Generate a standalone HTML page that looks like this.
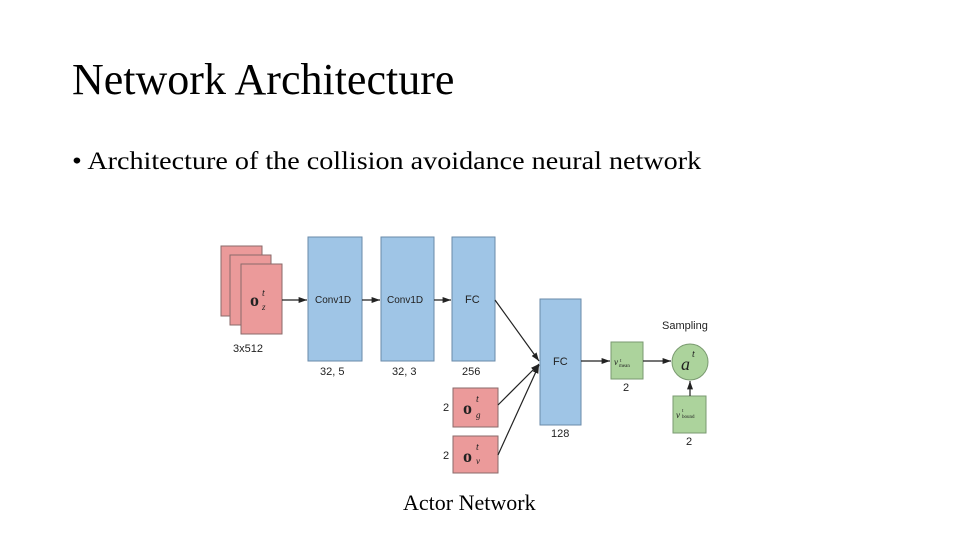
<!DOCTYPE html>
<html><head><meta charset="utf-8"><style>
body{margin:0;width:960px;height:540px;background:#fff;overflow:hidden;position:relative;font-family:"Liberation Serif",serif}
.t{position:absolute;white-space:nowrap}
</style></head><body>
<div class="t" style="left:72px;top:54px;font-size:44px">Network Architecture</div>
<div class="t" style="left:72px;top:148px;font-size:25px;word-spacing:0px;transform:scaleX(1.125);transform-origin:0 0">• Architecture of the collision avoidance neural network</div>
<div class="t" style="left:403px;top:490px;font-size:22px">Actor Network</div>
<svg style="position:absolute;left:0;top:0" width="960" height="540" font-family="Liberation Sans, sans-serif">
<defs><marker id="a" markerWidth="8" markerHeight="8" refX="7" refY="4" orient="auto"><path d="M0,1.5 L7,4 L0,6.5z" fill="#222"/></marker></defs>
<g fill="#eb9a9a" stroke="#8a6a6a" stroke-width="1">
<rect x="221" y="246" width="41" height="70"/>
<rect x="230" y="255" width="41" height="70"/>
<rect x="241" y="264" width="41" height="70"/>
<rect x="453" y="388" width="45" height="39"/>
<rect x="453" y="436" width="45" height="37"/>
</g>
<g fill="#9fc5e6" stroke="#6a8aa8" stroke-width="1">
<rect x="308" y="237" width="54" height="124"/>
<rect x="381" y="237" width="53" height="124"/>
<rect x="452" y="237" width="43" height="124"/>
<rect x="540" y="299" width="41" height="126"/>
</g>
<g fill="#acd39c" stroke="#7a9a70" stroke-width="1">
<rect x="611" y="342" width="32" height="37"/>
<rect x="673" y="396" width="33" height="37"/>
<circle cx="690" cy="362" r="18"/>
</g>
<g stroke="#222" stroke-width="1.2" fill="none" marker-end="url(#a)">
<line x1="282" y1="300" x2="307" y2="300"/>
<line x1="362" y1="300" x2="380" y2="300"/>
<line x1="434" y1="300" x2="451" y2="300"/>
<line x1="495" y1="300" x2="539" y2="361"/>
<line x1="498" y1="405" x2="539" y2="364"/>
<line x1="498" y1="455" x2="539" y2="365"/>
<line x1="581" y1="361" x2="610" y2="361"/>
<line x1="643" y1="361" x2="671" y2="361"/>
<line x1="690" y1="396" x2="690" y2="381"/>
</g>
<g font-size="10" fill="#222">
<text x="315" y="303">Conv1D</text>
<text x="387" y="303">Conv1D</text>
<text x="465" y="303" font-size="11">FC</text>
<text x="553" y="365" font-size="11">FC</text>
<text x="233" y="352" font-size="11">3x512</text>
<text x="320" y="375" font-size="11">32, 5</text>
<text x="392" y="375" font-size="11">32, 3</text>
<text x="462" y="375" font-size="11">256</text>
<text x="551" y="437" font-size="11">128</text>
<text x="443" y="411" font-size="11">2</text>
<text x="443" y="459" font-size="11">2</text>
<text x="623" y="391" font-size="11">2</text>
<text x="686" y="445" font-size="11">2</text>
<text x="662" y="329" font-size="11">Sampling</text>
</g>
<g font-family="Liberation Serif, serif" fill="#222">
<text x="250" y="306" font-size="18" font-weight="bold">o</text><text x="262" y="296" font-size="10" font-style="italic">t</text><text x="262" y="310" font-size="9" font-style="italic">z</text>
<text x="463" y="414" font-size="18" font-weight="bold">o</text><text x="476" y="402" font-size="10" font-style="italic">t</text><text x="476" y="418" font-size="9" font-style="italic">g</text>
<text x="463" y="462" font-size="18" font-weight="bold">o</text><text x="476" y="450" font-size="10" font-style="italic">t</text><text x="476" y="464" font-size="9" font-style="italic">v</text>
<text x="614" y="365" font-size="9" font-style="italic">v</text><text x="620" y="362" font-size="5">t</text><text x="619" y="367" font-size="5">mean</text>
<text x="676" y="418" font-size="9" font-style="italic">v</text><text x="682" y="412" font-size="5">t</text><text x="682" y="418" font-size="5">bound</text>
<text x="681" y="370" font-size="18" font-style="italic">a</text><text x="692" y="357" font-size="10" font-style="italic">t</text>
</g>
</svg>
</body></html>
